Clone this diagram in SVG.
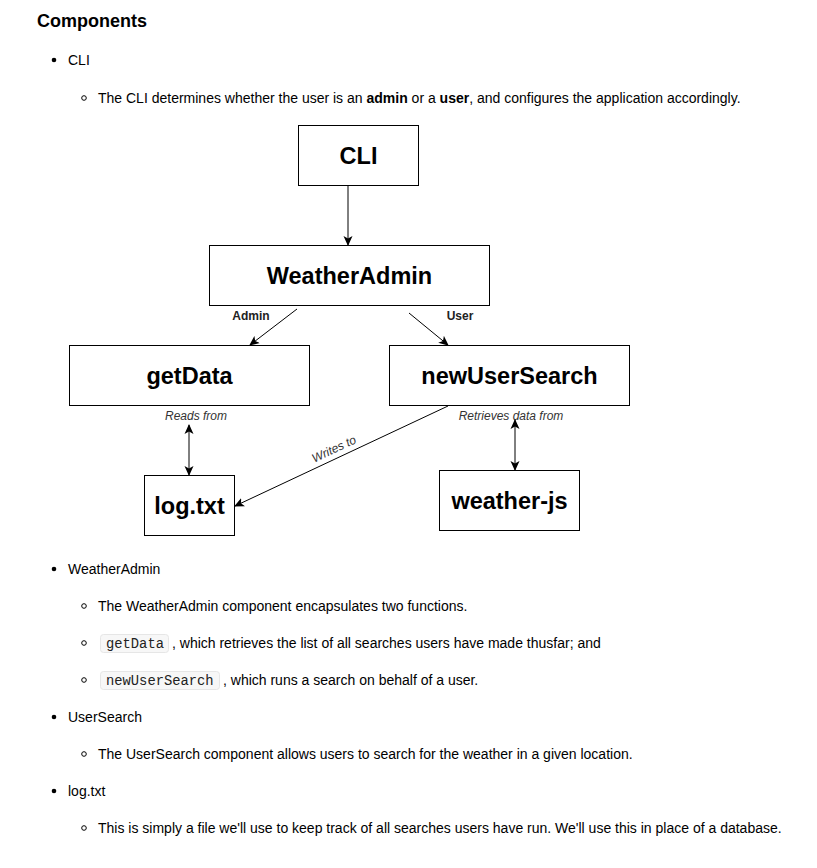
<svg xmlns="http://www.w3.org/2000/svg" width="817" height="868" viewBox="0 0 817 868">
<style>
.body{font-family:"Liberation Sans",Arial,Helvetica,sans-serif;font-size:14px;fill:#000}
.h{font-family:"Liberation Sans",Arial,sans-serif;font-size:18px;font-weight:bold;fill:#000}
.code{font-family:"Liberation Mono","Courier New",monospace;font-size:13.8px;fill:#222}
.codebox{fill:#f7f7f7;stroke:#e6e6e6;stroke-width:1}
.box{fill:#fff;stroke:#000;stroke-width:1}
.lbl{font-family:"Liberation Sans",Arial,sans-serif;font-size:23.5px;font-weight:bold;fill:#000;text-anchor:middle;dominant-baseline:central}
.el{font-family:"Liberation Sans",Arial,sans-serif;font-size:12px;font-style:italic;fill:#333;text-anchor:middle;dominant-baseline:central}
.eb{font-family:"Liberation Sans",Arial,sans-serif;font-size:12px;font-weight:bold;fill:#222;text-anchor:middle;dominant-baseline:central}
.edge{stroke:#000;stroke-width:1;fill:none}
.dot{fill:#000}
.ring{fill:none;stroke:#000;stroke-width:1}
</style>
<defs>
<marker id="ah" viewBox="0 0 10 10" refX="9" refY="5" markerWidth="10" markerHeight="10" markerUnits="userSpaceOnUse" orient="auto-start-reverse">
<path d="M0,0.5 L10,5 L0,9.5 L2.5,5 z" fill="#000"/>
</marker>
</defs>
<rect width="817" height="868" fill="#fff"/>

<g id="text">
<text class="h" x="37" y="27">Components</text>
<circle class="dot" cx="54" cy="60" r="2.3"/>
<text class="body" x="68" y="65">CLI</text>
<circle class="ring" cx="84" cy="98" r="2.3"/>
<text class="body" x="98" y="103">The CLI determines whether the user is an <tspan font-weight="bold">admin</tspan> or a <tspan font-weight="bold">user</tspan>, and configures the application accordingly.</text>

<circle class="dot" cx="54" cy="569" r="2.3"/>
<text class="body" x="68" y="574">WeatherAdmin</text>
<circle class="ring" cx="84" cy="606" r="2.3"/>
<text class="body" x="98" y="611">The WeatherAdmin component encapsulates two functions.</text>
<circle class="ring" cx="84" cy="643" r="2.3"/>
<rect class="codebox" x="100.5" y="634.5" width="68" height="18" rx="3"/>
<text class="code" x="106" y="648">getData</text>
<text class="body" x="172" y="648">, which retrieves the list of all searches users have made thusfar; and</text>
<circle class="ring" cx="84" cy="680" r="2.3"/>
<rect class="codebox" x="100.5" y="671.5" width="119" height="18" rx="3"/>
<text class="code" x="106" y="685">newUserSearch</text>
<text class="body" x="223" y="685">, which runs a search on behalf of a user.</text>

<circle class="dot" cx="54" cy="717" r="2.3"/>
<text class="body" x="68" y="722">UserSearch</text>
<circle class="ring" cx="84" cy="754" r="2.3"/>
<text class="body" x="98" y="759">The UserSearch component allows users to search for the weather in a given location.</text>
<circle class="dot" cx="54" cy="791" r="2.3"/>
<text class="body" x="68" y="796">log.txt</text>
<circle class="ring" cx="84" cy="828" r="2.3"/>
<text class="body" x="98" y="833">This is simply a file we'll use to keep track of all searches users have run. We'll use this in place of a database.</text>
</g>

<g id="connectors">
<line class="edge" x1="348" y1="186" x2="348" y2="245" marker-end="url(#ah)"/>
<line class="edge" x1="297" y1="309" x2="250" y2="345" marker-end="url(#ah)"/>
<line class="edge" x1="409" y1="313" x2="448" y2="345" marker-end="url(#ah)"/>
<line class="edge" x1="189" y1="425" x2="189" y2="475" marker-start="url(#ah)" marker-end="url(#ah)"/>
<line class="edge" x1="515" y1="420" x2="515" y2="470" marker-start="url(#ah)" marker-end="url(#ah)"/>
<line class="edge" x1="448" y1="406" x2="235" y2="506" marker-end="url(#ah)"/>
<text class="eb" x="251" y="316">Admin</text>
<text class="eb" x="460" y="316">User</text>
<text class="el" x="196" y="416">Reads from</text>
<text class="el" x="511" y="416">Retrieves data from</text>
<text class="el" x="334" y="449" transform="rotate(-25 334 449)">Writes to</text>
</g>

<g id="node-cli">
<rect class="box" x="298.5" y="125.5" width="120" height="60"/>
<text class="lbl" x="358.5" y="155.5">CLI</text>
</g>
<g id="node-weatheradmin">
<rect class="box" x="209.5" y="245.5" width="280" height="60"/>
<text class="lbl" x="349.5" y="275.5">WeatherAdmin</text>
</g>
<g id="node-getdata">
<rect class="box" x="69.5" y="345.5" width="240" height="60"/>
<text class="lbl" x="189.5" y="375.5">getData</text>
</g>
<g id="node-newusersearch">
<rect class="box" x="389.5" y="345.5" width="240" height="60"/>
<text class="lbl" x="509.5" y="375.5">newUserSearch</text>
</g>
<g id="node-logtxt">
<rect class="box" x="144.5" y="475.5" width="90" height="60"/>
<text class="lbl" x="189.5" y="505.5">log.txt</text>
</g>
<g id="node-weatherjs">
<rect class="box" x="439.5" y="470.5" width="140" height="60"/>
<text class="lbl" x="509.5" y="500.5">weather-js</text>
</g>
</svg>
